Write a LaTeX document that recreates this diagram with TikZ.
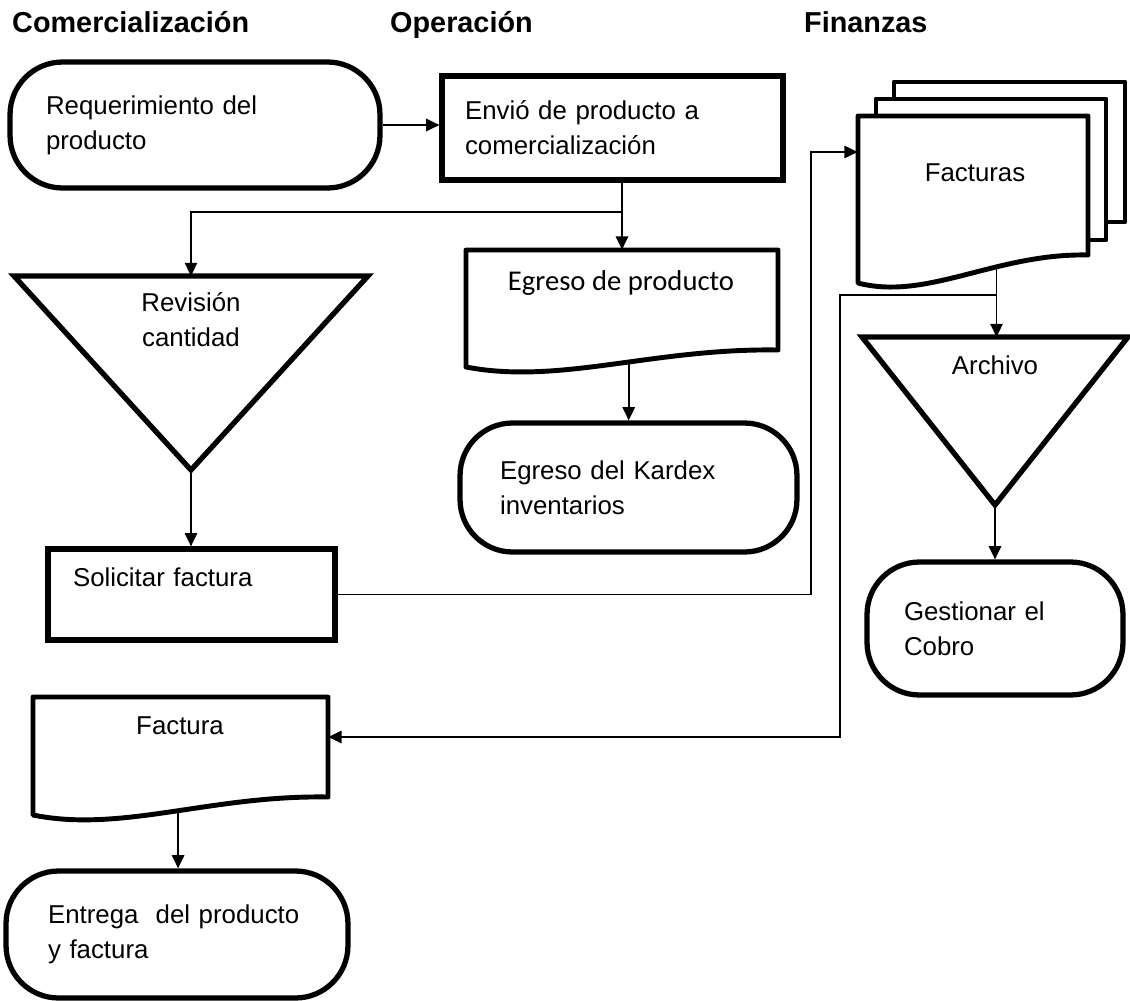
\documentclass[tikz,border=0pt]{standalone}
\usepackage{fontspec}
\setmainfont{Liberation Sans}
\newfontfamily\calibri{Carlito}
\usetikzlibrary{arrows.meta}

\newcommand\bodyfont{\fontsize{14.7}{19.8}\selectfont}

\tikzset{
  thickline/.style={line width=3pt},
  term/.style={draw, thickline, rounded corners=1.05cm, align=left, inner xsep=0pt, font=\bodyfont},
  procbox/.style={draw, thickline, align=left, inner xsep=0pt, font=\bodyfont},
  docshape/.style={draw, line width=2.8pt, fill=white, line join=round},
  doctext/.style={font=\bodyfont, anchor=base},
  conn/.style={line width=1pt},
  arr/.style={conn, -{Triangle[length=7.5pt,width=7pt]}},
  lane/.style={font=\bfseries\fontsize{16.4}{19}\selectfont, anchor=base west}
}

\begin{document}
\begin{tikzpicture}[x=0.02cm, y=-0.02cm]
\useasboundingbox (0,0) rectangle (1130,1001);

\def\DocBox#1#2#3#4#5#6#7{
\draw[docshape] (#2,#3) -- (#4,#3) -- (#4,#5)
  .. controls ({#4-0.4*(#4-#2)},{#5-2}) and ({#2+0.3*(#4-#2)},{#6+18}) .. (#2,#6)
  coordinate[pos=#7] (#1-b) -- cycle;
\node[inner sep=0pt, minimum width={(#4-#2)*0.02cm}, minimum height={(#5-#3)*0.02cm}]
  (#1) at ({(#2+#4)/2},{(#3+#5)/2}) {};
}
\def\TriBox#1#2#3#4#5{
\draw[thickline, line join=miter] (#2,#4) -- (#3,#4) -- ({(#2+#3)/2},#5) -- cycle;
\coordinate (#1-top) at ({(#2+#3)/2},#4);
\coordinate (#1-apex) at ({(#2+#3)/2},#5);
}

% lanes
\node[lane] (hcom) at (6,32) {Comercialización};
\node[lane] (hope) at (384,32) {Operación};
\node[lane] (hfin) at (798,32) {Finanzas};

% Comercializacion
\node[term, minimum width=7.4cm, minimum height=2.52cm, text width=5.96cm] (req) at (195,125)
  {Requerimiento del\\producto};
\TriBox{rev}{14}{368}{276}{470}
\node[font=\bodyfont, align=center] (revT) at (191,320) {Revisión\\cantidad};
\node[procbox, minimum width=5.74cm, minimum height=1.82cm, text width=4.74cm] (sol) at (191.5,594.5)
  {Solicitar factura\\\mbox{}};
\DocBox{fct}{33}{697}{328}{797}{815}{0.47}
\node[doctext] (fctT) at (180,734) {Factura};
\node[term, minimum width=6.84cm, minimum height=2.54cm, text width=5.16cm] (ent) at (177,934.5)
  {Entrega\ \ del producto\\y factura};

% Operacion
\node[procbox, minimum width=6.82cm, minimum height=2.08cm, text width=5.9cm] (env) at (612.5,128)
  {Envió de producto a\\comercialización};
\DocBox{egr}{466}{250}{778}{350}{367}{0.44}
\node[doctext, font=\calibri\fontsize{16.3}{19}\selectfont] (egrT) at (621,290) {Egreso de producto};
\node[term, minimum width=6.74cm, minimum height=2.58cm, text width=5.14cm] (kar) at (628.5,487.5)
  {Egreso del Kardex\\inventarios};

% Finanzas
\draw[docshape] (894,82) rectangle (1125,222);
\draw[docshape] (876,99) rectangle (1106,240);
\DocBox{fac}{858}{116}{1088}{255}{283}{0.36}
\node[doctext] (facT) at (975,181) {Facturas};
\TriBox{arch}{862}{1128}{337}{505}
\node[doctext] (archT) at (995,374) {Archivo};
\node[term, minimum width=5.12cm, minimum height=2.66cm, text width=3.64cm] (ges) at (995,628.5)
  {Gestionar el\\Cobro};

% flujo
\coordinate (br1) at (egr.north |- 0,212);
\coordinate (bendA) at (811,152);
\coordinate (facIn) at (fac.west |- bendA);
\coordinate (br2) at (fac-b |- 0,295);
\coordinate (bendB) at (840,737);
\coordinate (fctIn) at (fct.east |- bendB);

\draw[arr] (req.east) -- (req.east -| env.west);
\draw[arr] (egr.north |- env.south) -- (egr.north);
\draw[arr] (br1) -| (rev-top);
\draw[arr] (egr-b) -- (egr-b |- kar.north);
\draw[arr] (rev-apex) -- (rev-apex |- sol.north);
\draw[arr] (sol.east) -| (bendA) -- (facIn);
\draw[arr] (fac-b) -- (fac-b |- arch-top);
\draw[arr] (br2) -| (bendB) -- (fctIn);
\draw[arr] (arch-apex) -- (arch-apex |- ges.north);
\draw[arr] (fct-b) -- (fct-b |- ent.north);
\end{tikzpicture}
\end{document}
